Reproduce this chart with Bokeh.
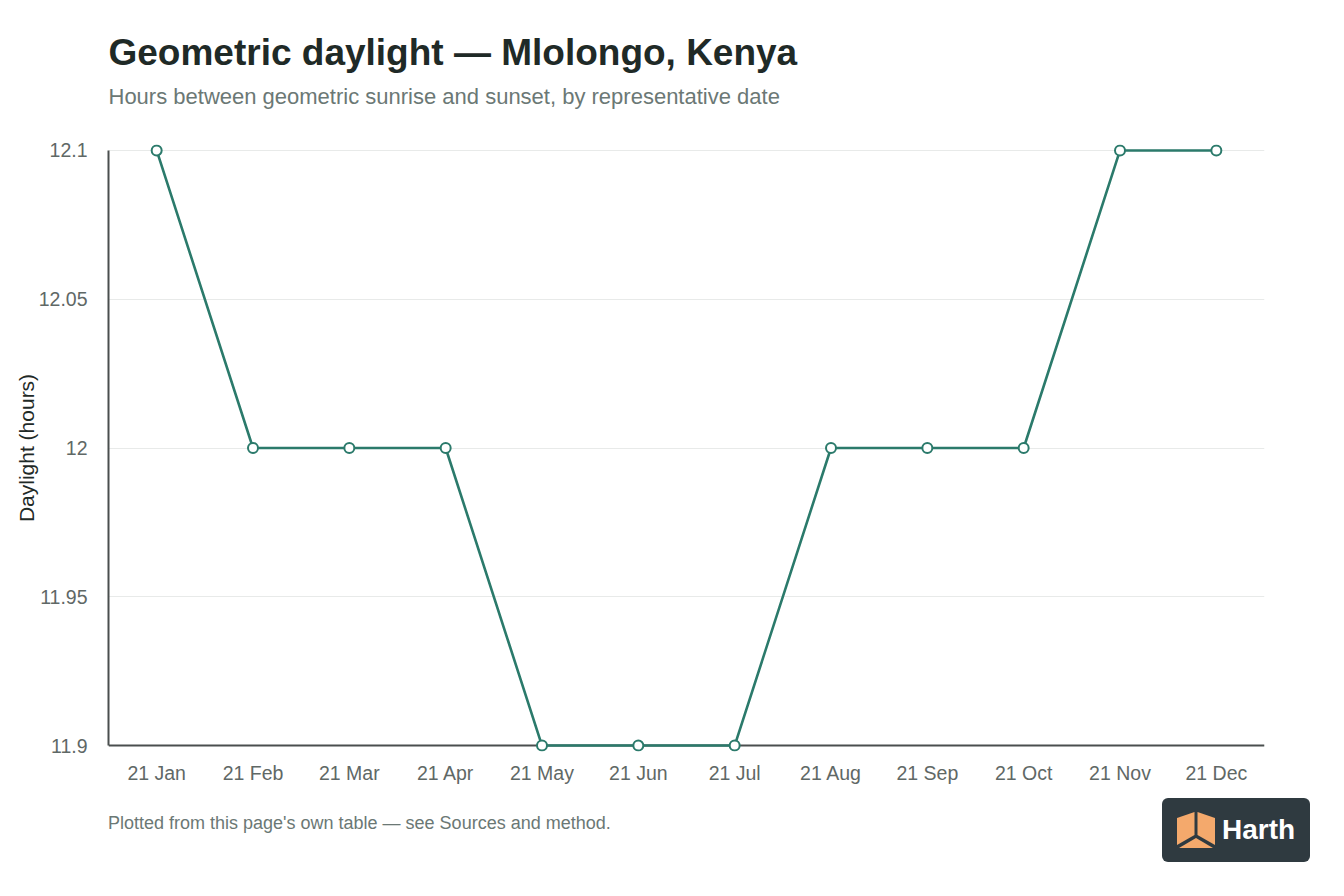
from bokeh.plotting import figure
from bokeh.embed import file_html
from bokeh.resources import INLINE
from bokeh.layouts import column, row
from bokeh.models import (ColumnDataSource, FixedTicker, CustomJSTickFormatter, FactorRange,
                          Range1d, Title, Div, Grid)

# data
months = ["21 Jan", "21 Feb", "21 Mar", "21 Apr", "21 May", "21 Jun",
          "21 Jul", "21 Aug", "21 Sep", "21 Oct", "21 Nov", "21 Dec"]
daylight = [12.1, 12.0, 12.0, 12.0, 11.9, 11.9, 11.9, 12.0, 12.0, 12.0, 12.1, 12.1]
y_ticks = [11.9, 11.95, 12.0, 12.05, 12.1]
y_lo, y_hi = 11.9, 12.1

FONT = "Liberation Sans"
LINE = "#2b7a6b"
AXIS = "#4a4f4e"
pad = 0.002  # a few px so the end markers are not cut by the frame

src = ColumnDataSource(data=dict(month=months, hours=daylight))

p = figure(width=1336, height=794, x_range=FactorRange(*months, range_padding=0),
           y_range=Range1d(y_lo - pad, y_hi + pad), output_backend="svg",
           toolbar_location=None, tools="")
p.min_border_left = 108
p.min_border_right = 72
p.min_border_top = 144
p.min_border_bottom = 43
p.outline_line_color = None
p.background_fill_color = "white"
p.border_fill_color = "white"

#Titles (first added sits next to the frame)
p.add_layout(Title(text=" ", text_font_size="1px", standoff=33), "above")
p.add_layout(Title(text="Hours between geometric sunrise and sunset, by representative date",
                   text_font=FONT, text_font_size="22px", text_font_style="normal",
                   text_color="#6b7875", vertical_align="bottom", standoff=0), "above")
p.add_layout(Title(text="Geometric daylight \u2014 Mlolongo, Kenya",
                   text_font=FONT, text_font_size="37px", text_font_style="bold",
                   text_color="#1f2a27", vertical_align="bottom", standoff=18), "above")

#Grid
p.xgrid.grid_line_color = None
p.ygrid.grid_line_color = "#e8eae9"
p.ygrid.grid_line_width = 1
p.ygrid.ticker = FixedTicker(ticks=y_ticks)
# dark base line at the bottom of the value range, under the markers
p.add_layout(Grid(dimension=1, ticker=FixedTicker(ticks=[y_lo]),
                  grid_line_color=AXIS, grid_line_width=2))

#Axes
p.yaxis.ticker = FixedTicker(ticks=y_ticks)
p.yaxis.bounds = (y_lo, y_hi)
p.yaxis.formatter = CustomJSTickFormatter(code="return String(Math.round(tick * 100) / 100)")
p.yaxis.axis_label = "Daylight (hours)"
p.yaxis.axis_label_text_font = FONT
p.yaxis.axis_label_text_font_style = "normal"
p.yaxis.axis_label_text_font_size = "21px"
p.yaxis.axis_label_text_color = "#1f2a27"
p.yaxis.axis_label_standoff = -2
p.yaxis.axis_line_color = AXIS
p.yaxis.axis_line_width = 2
p.xaxis.axis_line_color = None
for ax in (p.xaxis, p.yaxis):
    ax.major_tick_line_color = None
    ax.minor_tick_line_color = None
    ax.major_label_text_font = FONT
    ax.major_label_text_font_size = "19.5px"
    ax.major_label_text_color = "#5f6866"
p.yaxis.major_label_standoff = 15
p.xaxis.major_label_standoff = 4

#Render
p.line(x="month", y="hours", source=src, line_color=LINE, line_width=2.6)
p.scatter(x="month", y="hours", source=src, size=10, fill_color="white",
          line_color=LINE, line_width=2)

#Footer and badge
footer = Div(text="<div style=\"margin-left:108px;padding-top:18px;font-family:'Liberation Sans';"
                  "font-size:18px;line-height:22px;color:#6b7875;\">"
                  "Plotted from this page's own table \u2014 see Sources and method.</div>",
             width=1162, height=72, margin=(0, 0, 0, 0))
cube = ("<svg width='40' height='40' viewBox='0 0 40 40'>"
        "<polygon points='1,8 18.5,2 18.5,25 1,35' fill='#f4a96c'/>"
        "<polygon points='21.5,2 39,8 39,35 21.5,25' fill='#f4a96c'/>"
        "<polygon points='3,38 20,28 37,38' fill='#f4a96c'/></svg>")
badge = Div(text="<div style=\"width:148px;height:64px;background:#2f3a40;border-radius:6px;"
                 "display:flex;align-items:center;gap:6px;padding-left:14px;box-sizing:border-box;\">"
                 + cube +
                 "<span style=\"color:white;font-family:'Liberation Sans';font-weight:bold;"
                 "font-size:28px;\">Harth</span></div>",
            width=148, height=64, margin=(4, 0, 0, 0))

layout = column(p, row(footer, badge))

open("out.html", "w").write(file_html(layout, INLINE))
